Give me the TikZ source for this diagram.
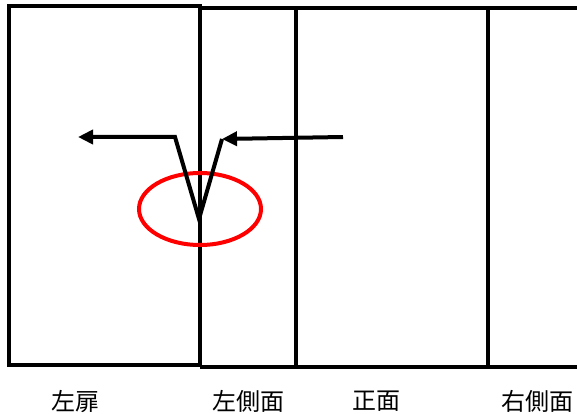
\documentclass[tikz,border=0pt]{standalone}
\usepackage{fontspec}
\newfontfamily\cjk{Noto Sans CJK JP}
\usetikzlibrary{arrows.meta}
\begin{document}
\begin{tikzpicture}[x=1pt,y=-1pt,
  panel/.style={draw=black,line width=4pt},
  flow/.style={draw=black,line width=4pt,line join=miter,-{Triangle[length=15pt,width=14pt]}},
  lbl/.style={font=\cjk\fontsize{24}{24}\selectfont,inner sep=0pt}]
\useasboundingbox (0,0) rectangle (577,414);
% panels
\draw[panel] (9,6) rectangle (200,365);
\draw[panel] (200,8) -- (580,8);
\draw[panel] (200,367) -- (580,367);
\draw[panel] (200,6) -- (200,367);
\draw[panel] (296,8) -- (296,367);
\draw[panel] (488,8) -- (488,367);
% ellipse
\draw[red,line width=4pt] (200,209) ellipse [x radius=61pt,y radius=36pt];
% arrows
\coordinate (a1) at (175,137);
\coordinate (a0) at (78,137);
\coordinate (v) at (199,219);
\coordinate (a2) at (222,139);
\coordinate (b0) at (343,137);
\draw[flow] (a2) -- (v) -- (a1) -- (a0);
\draw[flow] (b0) -- (a2);
% labels
\node[lbl] (l1) at (75,401) {左扉};
\node[lbl] (l2) at (248,401) {左側面};
\node[lbl] (l3) at (376,401) {正面};
\node[lbl] (l4) at (537,401) {右側面};
\end{tikzpicture}
\end{document}
